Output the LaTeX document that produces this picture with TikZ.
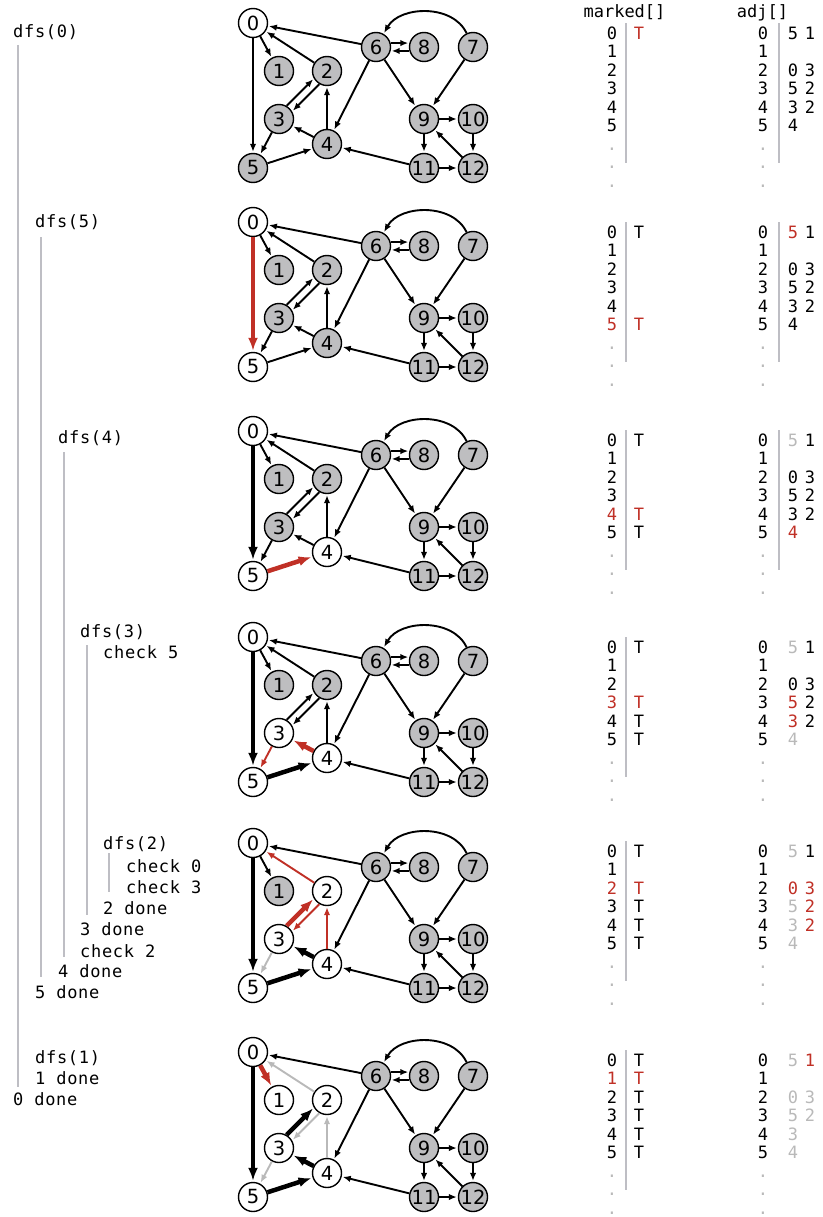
\documentclass[tikz,border=0pt]{standalone}
\usepackage{fontspec}
\setmainfont{DejaVu Sans}
\newfontfamily\codefont[LetterSpace=4]{DejaVu Sans Mono}
\newfontfamily\cellfont{DejaVu Sans Mono}
\usetikzlibrary{arrows.meta}

\definecolor{dfsred}{RGB}{192,48,38}
\definecolor{vgray}{RGB}{190,190,192}
\definecolor{fadegray}{RGB}{185,185,185}
\definecolor{bargray}{RGB}{190,190,196}

\tikzset{
  vtx/.style={circle,draw,line width=1.4pt,fill=vgray,minimum size=29pt,
    inner sep=0pt,font=\fontsize{19.5}{19.5}\selectfont},
  seen/.style={fill=white},
  plain/.style={-{Latex[length=8pt,width=6.5pt]},line width=1.9pt,shorten >=1pt},
  treeedge/.style={-{Latex[length=13pt,width=10pt]},line width=4.5pt},
  hot/.style={dfsred},
  dead/.style={fadegray},
  trace/.style={anchor=base west,inner sep=0pt,
    font=\codefont\fontsize{17}{17}\selectfont},
  cell/.style={anchor=base,inner sep=0pt,font=\cellfont\fontsize{17}{17}\selectfont},
  bar/.style={bargray,line width=2.5pt},
  n0/.style={},n1/.style={},n2/.style={},n3/.style={},n4/.style={},n5/.style={},
  e01/.style={},e05/.style={},e20/.style={},e23/.style={},e32/.style={},
  e35/.style={},e42/.style={},e43/.style={},e54/.style={}
}

% one snapshot of the digraph, vertex 0 at (253,#2)
\newcommand\dfsgraph[2]{%
  \begin{scope}[shift={(253,#2)}]
    \node[vtx,n0] (#1v0) at (0,0) {0};
    \node[vtx,n1] (#1v1) at (26,48) {1};
    \node[vtx,n2] (#1v2) at (74,48) {2};
    \node[vtx,n3] (#1v3) at (26,96) {3};
    \node[vtx,n4] (#1v4) at (74,121) {4};
    \node[vtx,n5] (#1v5) at (0,145) {5};
    \node[vtx] (#1v6) at (123,24) {6};
    \node[vtx] (#1v8) at (171,24) {8};
    \node[vtx] (#1v7) at (220,24) {7};
    \node[vtx] (#1v9) at (171,96) {9};
    \node[vtx] (#1v10) at (220,96) {10};
    \node[vtx] (#1v11) at (171,145) {11};
    \node[vtx] (#1v12) at (220,145) {12};
    \draw[plain,e01] (#1v0) -- (#1v1);
    \draw[plain,e05] (#1v0) -- (#1v5);
    \draw[plain,e20] (#1v2) -- (#1v0);
    \draw[plain,e32] (#1v3.60) -- (#1v2.210);
    \draw[plain,e23] (#1v2.240) -- (#1v3.30);
    \draw[plain,e35] (#1v3) -- (#1v5);
    \draw[plain,e42] (#1v4) -- (#1v2);
    \draw[plain,e43] (#1v4) -- (#1v3);
    \draw[plain,e54] (#1v5) -- (#1v4);
    \draw[plain] (#1v6) -- (#1v0);
    \draw[plain] (#1v6) -- (#1v4);
    \draw[plain] (#1v6) -- (#1v9);
    \draw[plain] (#1v6.15) -- (#1v8.165);
    \draw[plain] (#1v8.195) -- (#1v6.345);
    \draw[plain] (#1v7) -- (#1v9);
    \draw[plain] (#1v7) to[out=115,in=60] (#1v6);
    \draw[plain] (#1v9) -- (#1v10);
    \draw[plain] (#1v9) -- (#1v11);
    \draw[plain] (#1v10) -- (#1v12);
    \draw[plain] (#1v12) -- (#1v9);
    \draw[plain] (#1v11) -- (#1v12);
    \draw[plain] (#1v11) -- (#1v4);
  \end{scope}}

% marked[] row labels, row 0 baseline at #2, row #3 in red
\newcommand\dfstable[3]{%
  \foreach \row in {0,...,5}{
    \ifnum\row=#3\relax \def\hue{dfsred}\else \def\hue{black}\fi
    \node[cell,text=\hue] (#1m\row) at (612,#2+18.5*\row) {\row};
    \node[cell] (#1a\row) at (763,#2+18.5*\row) {\row};}
  \foreach \row in {6,7,8}{
    \node[cell,text=fadegray] (#1md\row) at (612,#2+18.5*\row) {.};
    \node[cell,text=fadegray] (#1ad\row) at (763,#2+18.5*\row) {.};}
  \draw[bar] (626,#2-16) -- (626,#2+124);}

\newcommand\adjvals[3]{%
  \foreach \row/\col/\val/\hue [count=\k] in {#3}
    \node[cell,text=\hue] (#1j\k) at (\col,#2+18.5*\row) {\val};}

\begin{document}
\begin{tikzpicture}[x=1pt,y=-1pt]
\useasboundingbox (0,0) rectangle (822,1217);

% call trace
\node[trace] (t0) at (13,38) {dfs(0)};
\node[trace] (t1) at (35,227) {dfs(5)};
\node[trace] (t2) at (58,443) {dfs(4)};
\node[trace] (t3) at (80,637) {dfs(3)};
\node[trace] (t4) at (103,658) {check 5};
\node[trace] (t5) at (103,849) {dfs(2)};
\node[trace] (t6) at (126,872) {check 0};
\node[trace] (t7) at (126,893) {check 3};
\node[trace] (t8) at (103,914) {2 done};
\node[trace] (t9) at (80,935) {3 done};
\node[trace] (t10) at (80,957) {check 2};
\node[trace] (t11) at (58,977) {4 done};
\node[trace] (t12) at (35,998) {5 done};
\node[trace] (t13) at (35,1063) {dfs(1)};
\node[trace] (t14) at (35,1084) {1 done};
\node[trace] (t15) at (13,1105) {0 done};
\draw[bar] (18,45) -- (18,1087);
\draw[bar] (41,237) -- (41,977);
\draw[bar] (64,452) -- (64,957);
\draw[bar] (87,645) -- (87,915);
\draw[bar] (109,853) -- (109,892);

\node[cell] (hm) at (624.5,18) {marked[]};
\node[cell] (ha) at (762.5,18) {adj[]};

% dfs(0)
\begin{scope}[n0/.style=seen]
  \dfsgraph{a}{23}
\end{scope}
\dfstable{a}{39.3}{-1}
\draw[bar] (779,23.3) -- (779,163.3);
\node[cell,text=dfsred] (aT0) at (639,39.3) {T};
\adjvals{a}{39.3}{0/793/5/black,0/810/1/black,2/793/0/black,2/810/3/black,
  3/793/5/black,3/810/2/black,4/793/3/black,4/810/2/black,5/793/4/black}

% dfs(5)
\begin{scope}[n0/.style=seen,n5/.style=seen,e05/.style={treeedge,hot}]
  \dfsgraph{b}{222}
\end{scope}
\dfstable{b}{238.3}{5}
\draw[bar] (779,222.3) -- (779,362.3);
\node[cell] (bT0) at (639,238.3) {T};
\node[cell,text=dfsred] (bT5) at (639,238.3+18.5*5) {T};
\adjvals{b}{238.3}{0/793/5/dfsred,0/810/1/black,2/793/0/black,2/810/3/black,
  3/793/5/black,3/810/2/black,4/793/3/black,4/810/2/black,5/793/4/black}

% dfs(4)
\begin{scope}[n0/.style=seen,n5/.style=seen,n4/.style=seen,
  e05/.style=treeedge,e54/.style={treeedge,hot}]
  \dfsgraph{c}{431}
\end{scope}
\dfstable{c}{446.3}{4}
\draw[bar] (779,430.3) -- (779,570.3);
\foreach \row in {0,5} \node[cell] (cT\row) at (639,446.3+18.5*\row) {T};
\node[cell,text=dfsred] (cT4) at (639,446.3+18.5*4) {T};
\adjvals{c}{446.3}{0/793/5/fadegray,0/810/1/black,2/793/0/black,2/810/3/black,
  3/793/5/black,3/810/2/black,4/793/3/black,4/810/2/black,5/793/4/dfsred}

% dfs(3)
\begin{scope}[n0/.style=seen,n5/.style=seen,n4/.style=seen,n3/.style=seen,
  e05/.style=treeedge,e54/.style=treeedge,e43/.style={treeedge,hot},e35/.style=hot]
  \dfsgraph{d}{637}
\end{scope}
\dfstable{d}{653.3}{3}
\foreach \row in {0,4,5} \node[cell] (dT\row) at (639,653.3+18.5*\row) {T};
\node[cell,text=dfsred] (dT3) at (639,653.3+18.5*3) {T};
\adjvals{d}{653.3}{0/793/5/fadegray,0/810/1/black,2/793/0/black,2/810/3/black,
  3/793/5/dfsred,3/810/2/black,4/793/3/dfsred,4/810/2/black,5/793/4/fadegray}

% dfs(2)
\begin{scope}[n0/.style=seen,n5/.style=seen,n4/.style=seen,n3/.style=seen,n2/.style=seen,
  e05/.style=treeedge,e54/.style=treeedge,e43/.style=treeedge,e32/.style={treeedge,hot},
  e20/.style=hot,e23/.style=hot,e42/.style=hot,e35/.style=dead]
  \dfsgraph{e}{843}
\end{scope}
\dfstable{e}{857.3}{2}
\foreach \row in {0,3,4,5} \node[cell] (eT\row) at (639,857.3+18.5*\row) {T};
\node[cell,text=dfsred] (eT2) at (639,857.3+18.5*2) {T};
\adjvals{e}{857.3}{0/793/5/fadegray,0/810/1/black,2/793/0/dfsred,2/810/3/dfsred,
  3/793/5/fadegray,3/810/2/dfsred,4/793/3/fadegray,4/810/2/dfsred,5/793/4/fadegray}

% dfs(1)
\begin{scope}[n0/.style=seen,n1/.style=seen,n2/.style=seen,n3/.style=seen,n4/.style=seen,
  n5/.style=seen,e05/.style=treeedge,e54/.style=treeedge,e43/.style=treeedge,
  e32/.style=treeedge,e01/.style={treeedge,hot},
  e20/.style=dead,e23/.style=dead,e42/.style=dead,e35/.style=dead]
  \dfsgraph{f}{1052}
\end{scope}
\dfstable{f}{1066.3}{1}
\foreach \row in {0,2,3,4,5} \node[cell] (fT\row) at (639,1066.3+18.5*\row) {T};
\node[cell,text=dfsred] (fT1) at (639,1066.3+18.5) {T};
\adjvals{f}{1066.3}{0/793/5/fadegray,0/810/1/dfsred,2/793/0/fadegray,2/810/3/fadegray,
  3/793/5/fadegray,3/810/2/fadegray,4/793/3/fadegray,5/793/4/fadegray}
\end{tikzpicture}
\end{document}
